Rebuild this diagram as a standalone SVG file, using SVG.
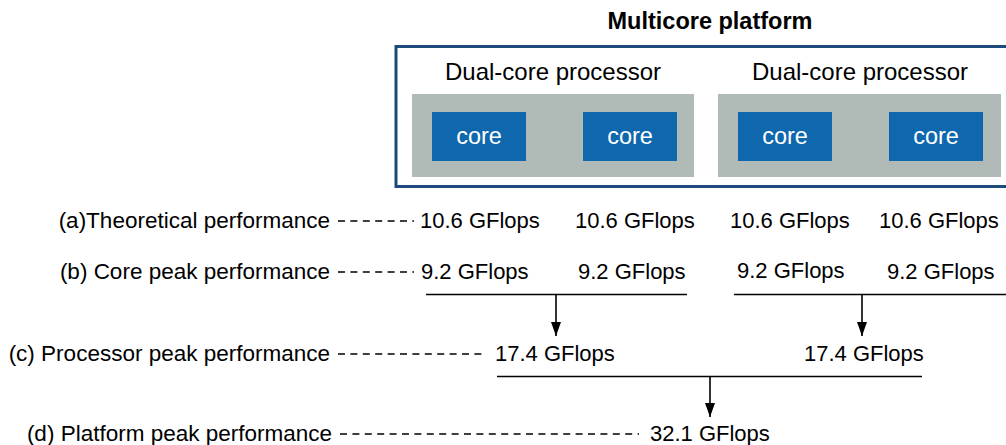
<svg xmlns="http://www.w3.org/2000/svg" width="1006" height="445" viewBox="0 0 1006 445">
<style>
text{font-family:"Liberation Sans",Arial,sans-serif;fill:#000}
.t{font-size:22px}
.l{font-size:22.5px}
.h{font-size:23.5px;font-weight:bold}
.p{font-size:24px}
.c{font-size:23.5px;fill:#fff}
.gray{fill:#b0bab7}
.core{fill:#0f68ae}
.dash{stroke:#000;stroke-width:1.5;stroke-dasharray:7 5.4;fill:none}
.ln{stroke:#000;stroke-width:1.6;fill:none}
</style>
<defs>
<marker id="arr" viewBox="0 0 14 10" refX="14" refY="5" markerWidth="14" markerHeight="10" markerUnits="userSpaceOnUse" orient="auto">
<path d="M0,0 L14,5 L0,10 z" fill="#000"/>
</marker>
</defs>
<rect width="1006" height="445" fill="#fff"/>
<g id="platform">
<text class="h" x="710" y="29" text-anchor="middle">Multicore platform</text>
<rect x="396" y="46.5" width="620" height="140" fill="#fff" stroke="#1c4a7c" stroke-width="3"/>
</g>
<g id="proc1">
<rect class="gray" x="412" y="94" width="282" height="83"/>
<text class="p" x="553" y="80" text-anchor="middle">Dual-core processor</text>
</g>
<g id="proc2">
<rect class="gray" x="718" y="94" width="283" height="83"/>
<text class="p" x="860" y="80" text-anchor="middle">Dual-core processor</text>
</g>
<g id="core1"><rect class="core" x="432" y="112" width="94" height="49"/><text class="c" x="479" y="144" text-anchor="middle">core</text></g>
<g id="core2"><rect class="core" x="583" y="112" width="94" height="49"/><text class="c" x="630" y="144" text-anchor="middle">core</text></g>
<g id="core3"><rect class="core" x="738" y="112" width="94" height="49"/><text class="c" x="785" y="144" text-anchor="middle">core</text></g>
<g id="core4"><rect class="core" x="889" y="112" width="94" height="49"/><text class="c" x="936" y="144" text-anchor="middle">core</text></g>
<g id="labels">
<text class="l" x="330" y="228" text-anchor="end">(a)Theoretical performance</text>
<text class="l" x="330" y="279" text-anchor="end">(b) Core peak performance</text>
<text class="l" x="330" y="361" text-anchor="end">(c) Processor peak performance</text>
<text class="l" x="332" y="441" text-anchor="end">(d) Platform peak performance</text>
</g>
<g id="rowA">
<text class="t" x="420" y="228">10.6 GFlops</text>
<text class="t" x="575" y="228">10.6 GFlops</text>
<text class="t" x="730" y="228">10.6 GFlops</text>
<text class="t" x="879" y="228">10.6 GFlops</text>
</g>
<g id="rowB">
<text class="t" x="421" y="279">9.2 GFlops</text>
<text class="t" x="578" y="279">9.2 GFlops</text>
<text class="t" x="737" y="278">9.2 GFlops</text>
<text class="t" x="887" y="279">9.2 GFlops</text>
</g>
<g id="rowC">
<text class="t" x="495" y="361">17.4 GFlops</text>
<text class="t" x="804" y="361">17.4 GFlops</text>
</g>
<g id="rowD">
<text class="t" x="650" y="441">32.1 GFlops</text>
</g>
<g id="connectors">
<line class="dash" x1="338" y1="221" x2="414" y2="221"/>
<line class="dash" x1="338" y1="272" x2="414" y2="272"/>
<line class="dash" x1="338" y1="354" x2="484" y2="354"/>
<line class="dash" x1="340" y1="434" x2="639" y2="434"/>
<line class="ln" x1="426" y1="294.5" x2="687" y2="294.5"/>
<line class="ln" x1="734" y1="294.5" x2="1006" y2="294.5"/>
<line class="ln" x1="497" y1="376.5" x2="922" y2="376.5"/>
<line class="ln" x1="556" y1="294.5" x2="556" y2="336" marker-end="url(#arr)"/>
<line class="ln" x1="862" y1="294.5" x2="862" y2="336" marker-end="url(#arr)"/>
<line class="ln" x1="710" y1="376.5" x2="710" y2="417" marker-end="url(#arr)"/>
</g>
</svg>
